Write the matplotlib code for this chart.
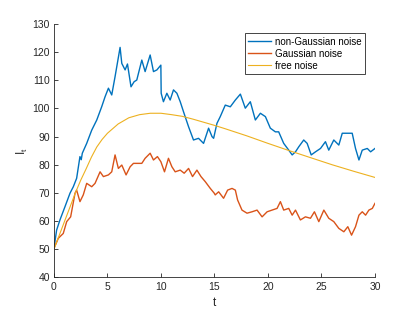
import matplotlib
matplotlib.use("Agg")
import matplotlib.pyplot as plt

plt.rcParams['font.family'] = ['Liberation Sans', 'DejaVu Sans']

# non-Gaussian noise (blue)
t_ng = [0, 0.25, 0.56, 1.03, 1.5, 1.81, 2.12, 2.43, 2.55, 2.65, 3.06, 3.53, 4.0, 4.46, 4.78,
        5.09, 5.4, 5.71, 6.18, 6.34, 6.65, 6.87, 7.2, 7.49, 7.74, 8.21, 8.52, 8.99, 9.3,
        9.62, 9.99, 10.02, 10.23, 10.55, 10.86, 11.17, 11.49, 11.8, 12.11, 12.58, 13.04,
        13.51, 13.98, 14.45, 14.77, 14.92, 15.23, 15.54, 16.01, 16.48, 16.95, 17.42, 17.88,
        18.35, 18.82, 19.29, 19.76, 20.22, 20.69, 21.0, 21.47, 21.94, 22.26, 22.57, 22.88,
        23.34, 23.66, 24.04, 24.44, 24.91, 25.37, 25.68, 26.15, 26.62, 26.94, 27.41, 27.87,
        28.18, 28.5, 28.81, 29.28, 29.59, 30.0]
y_ng = [50.3, 56.8, 60.4, 65.1, 69.9, 72.2, 75.2, 82.9, 81.8, 84.1, 87.6, 92.3, 95.9, 100.6, 104.2,
        107.2, 104.8, 111.3, 121.7, 116.0, 113.7, 115.8, 107.7, 109.5, 110.1, 117.2, 113.1, 119.0, 113.1,
        113.7, 115.4, 105.4, 102.4, 105.4, 103.0, 106.6, 105.4, 102.4, 98.8, 93.5, 88.8,
        89.4, 87.6, 93.0, 90.0, 89.4, 94.7, 97.1, 101.2, 100.6, 103.0, 105.1, 100.1,
        102.4, 95.9, 98.3, 97.1, 93.0, 91.7, 91.7, 87.6, 85.2, 83.5, 84.6, 86.4,
        88.8, 87.6, 83.5, 84.6, 85.8, 88.2, 85.2, 88.8, 87.0, 91.2, 91.2, 91.2,
        85.8, 81.7, 85.2, 85.8, 84.6, 85.8]

# Gaussian noise (orange)
t_g = [0, 0.41, 0.87, 1.19, 1.56, 1.97, 2.12, 2.43, 2.74, 3.06, 3.53, 3.84, 4.31, 4.62, 5.09,
       5.4, 5.71, 6.02, 6.34, 6.74, 7.12, 7.43, 7.89, 8.21, 8.52, 8.99, 9.3, 9.67, 9.99,
       10.33, 10.7, 11.02, 11.33, 11.8, 12.17, 12.58, 12.95, 13.36, 13.74, 14.14, 14.61,
       14.98, 15.07, 15.39, 15.85, 16.23, 16.64, 16.95, 17.16, 17.57, 18.04, 18.51, 18.98,
       19.45, 19.92, 20.38, 20.85, 21.16, 21.47, 21.94, 22.26, 22.57, 23.03, 23.5, 23.97,
       24.34, 24.75, 25.22, 25.68, 26.15, 26.62, 27.09, 27.46, 27.81, 28.18, 28.5, 28.81,
       29.12, 29.43, 29.75, 30.0]
y_g = [50.3, 53.9, 55.6, 59.8, 61.5, 69.9, 71.0, 66.9, 69.3, 73.4, 72.2, 73.4, 77.5, 75.8, 76.4,
       77.5, 83.5, 78.7, 79.9, 76.4, 79.3, 80.5, 80.5, 80.5, 82.3, 84.1, 81.7, 82.9, 81.1,
       77.5, 82.3, 79.3, 77.5, 78.1, 77.0, 78.7, 75.8, 78.1, 75.8, 74.0, 71.6,
       69.9, 69.3, 70.4, 68.1, 71.0, 71.6, 71.0, 67.5, 63.9, 62.8, 63.3, 63.9,
       61.5, 63.3, 63.9, 64.5, 66.9, 63.9, 64.5, 62.1, 63.9, 60.4, 61.5, 61.0,
       63.3, 59.8, 63.9, 61.0, 59.8, 57.4, 56.2, 58.0, 55.0, 58.0, 62.1, 63.3,
       62.1, 63.9, 64.5, 66.3]

# free noise (yellow)
t_f = [0, 0.5, 1, 1.5, 2, 2.5, 3, 3.5, 4, 4.5, 5, 6, 7, 8, 9, 10, 11, 12, 13, 14, 15, 16,
       18, 20, 22, 24, 26, 28, 30]
y_f = [50, 55, 60, 65, 70, 74.5, 78.5, 82.7, 86.3, 89, 91.2, 94.5, 96.7, 97.8, 98.3, 98.3,
       97.8, 97.2, 96.2, 95.1, 94.0, 92.8, 90.3, 87.6, 85.0, 82.5, 80.0, 77.7, 75.5]

labels = ['non-Gaussian noise', 'Gaussian noise', 'free noise']
colors = ['#0072BD', '#D95319', '#EDB120']
x_ticks = [0, 5, 10, 15, 20, 25, 30]
y_ticks = [40, 50, 60, 70, 80, 90, 100, 110, 120, 130]

fig = plt.figure(figsize=(4.15, 3.12), dpi=100)
ax = fig.add_axes([0.130, 0.111, 0.7736, 0.812])

ax.plot(t_ng, y_ng, color=colors[0], lw=1.0, label=labels[0])
ax.plot(t_g, y_g, color=colors[1], lw=1.0, label=labels[1])
ax.plot(t_f, y_f, color=colors[2], lw=0.8, label=labels[2])

ax.set_xlim(0, 30)
ax.set_ylim(40, 130)
ax.set_xticks(x_ticks)
ax.set_yticks(y_ticks)
for s in ['top', 'right']:
    ax.spines[s].set_visible(False)
for s in ['left', 'bottom']:
    ax.spines[s].set_color('#262626')
    ax.spines[s].set_linewidth(0.6)
ax.tick_params(direction='in', length=3, width=0.6, colors='#262626', labelsize=7.5, pad=3)

ax.set_xlabel('t', fontsize=8.5, color='#262626', labelpad=4)
ax.set_ylabel(r'$\mathregular{I_t}$', fontsize=8.5, color='#262626', labelpad=2)

leg = ax.legend(loc='upper right', bbox_to_anchor=(0.970, 0.963), fontsize=7,
                frameon=True, fancybox=False, framealpha=1, edgecolor='#262626',
                handlelength=2.4, borderpad=0.35, labelspacing=0.2, handletextpad=0.4,
                borderaxespad=0)
leg.get_frame().set_linewidth(0.6)

fig.savefig('out.png', dpi=100)
